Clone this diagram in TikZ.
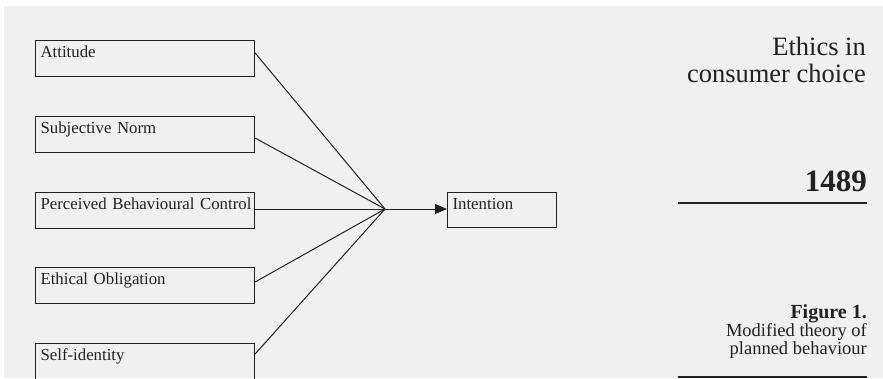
\documentclass[tikz,border=0pt]{standalone}
\usepackage{fontspec}
\setmainfont{Liberation Serif}
\usetikzlibrary{arrows.meta}
\definecolor{paper}{gray}{0.94}
\definecolor{ink}{gray}{0.13}
\newcommand{\boxfont}{\fontsize{16.8}{18}\selectfont\spaceskip=3pt plus 1pt minus 1pt\relax}
\tikzset{
  factor/.style={draw=ink, line width=1.1pt, anchor=north west,
    minimum width=219pt, minimum height=36pt,
    inner xsep=5pt, inner ysep=4pt, text height=12.5pt, text depth=15.5pt,
    text width=209pt, align=left, text=ink, font=\boxfont},
  link/.style={draw=ink, line width=1pt},
  side/.style={anchor=base east, text=ink, inner sep=0pt},
  rulebar/.style={draw=ink, line width=2.4pt}
}
\begin{document}
\begin{tikzpicture}[x=1pt, y=-1pt]
  \useasboundingbox (0,0) rectangle (883,378);
  \fill[paper] (4,6) rectangle (883,378);

  % predictor boxes
  \node[factor] (att) at (35,40)  {Attitude};
  \node[factor] (sn)  at (35,116) {Subjective Norm};
  \node[factor] (pbc) at (35,192) {\mbox{Perceived Behavioural Control}};
  \node[factor] (eo)  at (35,267) {Ethical Obligation};
  \node[factor] (si)  at (35,343) {Self-identity};

  % outcome box
  \node[factor, minimum width=109pt, text width=99pt, minimum height=35pt,
        text depth=14.5pt] (int) at (447,192) {Intention};

  % meeting point of the paths
  \coordinate (hub) at (385,209);

  \draw[link] ([yshift=-13pt]att.north east) -- (hub);
  \draw[link] ([yshift=-22pt]sn.north east)  -- (hub);
  \draw[link] ([yshift=-17pt]pbc.north east) -- (hub);
  \draw[link] ([yshift=-15pt]eo.north east)  -- (hub);
  \draw[link] ([yshift=-11pt]si.north east)  -- (hub);
  \draw[link, -{Triangle[length=12pt,width=10pt]}] (hub) -- (int.west |- hub);

  % running head and caption on the right
  \node[side, font=\fontsize{26.5}{27}\selectfont] (head1) at (866,55) {Ethics in};
  \node[side, font=\fontsize{26.5}{27}\selectfont] (head2) at (866,82) {consumer choice};
  \node[side, font=\bfseries\fontsize{31}{31}\selectfont] (page) at (867,191) {1489};
  \coordinate (r1a) at (678,203);
  \coordinate (r1b) at (867,203);
  \draw[rulebar] (r1a) -- (r1b);

  \node[side, font=\bfseries\fontsize{20}{20}\selectfont] (fig) at (867,318) {Figure 1.};
  \node[side, font=\fontsize{18.5}{18}\selectfont] (cap1) at (867,336) {Modified theory of};
  \node[side, font=\fontsize{18.5}{18}\selectfont] (cap2) at (867,354) {planned behaviour};
  \coordinate (r2a) at (678,377);
  \coordinate (r2b) at (867,377);
  \draw[rulebar, line width=2pt] (r2a) -- (r2b);
\end{tikzpicture}
\end{document}
